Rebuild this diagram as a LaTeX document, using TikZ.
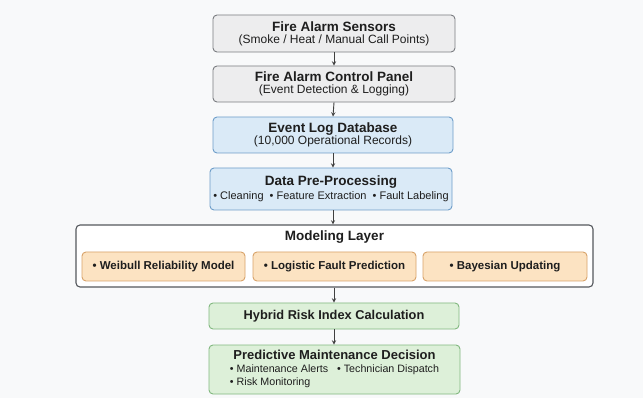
\documentclass[tikz,border=0pt]{standalone}
\usepackage{fontspec}
\setmainfont{Liberation Sans}
\usetikzlibrary{shapes, arrows, positioning, calc}
\definecolor{grayfill}{HTML}{EDEDEE}
\definecolor{grayline}{HTML}{7A7C80}
\definecolor{bluefill}{HTML}{DAEAF7}
\definecolor{blueline}{HTML}{6E9DC9}
\definecolor{orangefill}{HTML}{FCE3C2}
\definecolor{orangeline}{HTML}{D8A36A}
\definecolor{greenfill}{HTML}{DDF0D9}
\definecolor{greenline}{HTML}{82B87F}
\definecolor{layerline}{HTML}{55585D}
\definecolor{txt}{HTML}{1E1E1E}
\definecolor{bgcol}{HTML}{F8F9FA}
\newcommand{\ttl}[1]{{\bfseries\fontsize{13.5}{15}\selectfont #1}}
\newcommand{\sub}[1]{{\fontsize{12}{14}\selectfont #1}}
\tikzstyle{stage} = [draw, rounded corners=4pt, line width=0.9pt, align=center, inner sep=0pt, text=txt]
\tikzstyle{model} = [stage, draw=orangeline, fill=orangefill, minimum width=163pt, minimum height=29pt, font=\bfseries\fontsize{11.5}{13}\selectfont]
\tikzstyle{flow} = [->, >=stealth, line width=0.9pt, draw=txt!85]

\begin{document}
\begin{tikzpicture}[x=1pt, y=-1pt]
		\fill[bgcol] (0,0) rectangle (643,398);
		\useasboundingbox (0,0) rectangle (643,398);
		\coordinate (sensors) at (334,  33.5);
		\coordinate (panel)   at (334,  84);
		\coordinate (logdb)   at (333,  135);
		\coordinate (preproc) at (331,  189);
		\coordinate (layer)   at (334.5, 256);
		\coordinate (weibull) at (163.5, 266.5);
		\coordinate (logist)  at (334.5, 266.5);
		\coordinate (bayes)   at (505,  266.5);
		\coordinate (hybrid)  at (334,  316);
		\coordinate (decide)  at (334.5, 369.5);

		\node[stage, draw=grayline, fill=grayfill, minimum width=242pt, minimum height=37pt] (SEN) at (sensors) {\ttl{Fire Alarm Sensors}\\\sub{(Smoke / Heat / Manual Call Points)}};
		\node[stage, draw=grayline, fill=grayfill, minimum width=242pt, minimum height=36pt] (PAN) at (panel) {\ttl{Fire Alarm Control Panel}\\\sub{(Event Detection \& Logging)}};
		\node[stage, draw=blueline, fill=bluefill, minimum width=240pt, minimum height=36pt] (LOG) at (logdb) {\ttl{Event Log Database}\\\sub{(10,000 Operational Records)}};
		\node[stage, draw=blueline, fill=bluefill, minimum width=242pt, minimum height=42pt] (PRE) at (preproc) {\ttl{Data Pre-Processing}\\[2pt]{\fontsize{11}{13}\selectfont \textbullet\ Cleaning\ \ \textbullet\ Feature Extraction\ \ \textbullet\ Fault Labeling}};
		\node[stage, draw=layerline, fill=white, line width=1.1pt, minimum width=517pt, minimum height=62pt] (LAY) at (layer) {};
		\node[text=txt, font=\bfseries\fontsize{13.5}{15}\selectfont] (LAYT) at ($(LAY.north)+(0,13)$) {Modeling Layer};
		\node[model] (WEI) at (weibull) {\textbullet\ Weibull Reliability Model};
		\node[model] (LGF) at (logist) {\textbullet\ Logistic Fault Prediction};
		\node[model, minimum width=164pt] (BAY) at (bayes) {\textbullet\ Bayesian Updating};
		\node[stage, draw=greenline, fill=greenfill, minimum width=250pt, minimum height=26pt, font=\bfseries\fontsize{12.8}{14}\selectfont] (HYB) at (hybrid) {Hybrid Risk Index Calculation};
		\node[stage, draw=greenline, fill=greenfill, minimum width=251pt, minimum height=49pt] (DEC) at ($(decide)+(0,0)$) {\begin{tabular}{@{}l@{}}\multicolumn{1}{@{}c@{}}{\bfseries\fontsize{13}{14}\selectfont Predictive Maintenance Decision}\\[1pt]
			{\fontsize{10.7}{12}\selectfont \textbullet\ Maintenance Alerts\ \ \ \textbullet\ Technician Dispatch}\\[1pt]
			{\fontsize{10.7}{12}\selectfont \textbullet\ Risk Monitoring}\end{tabular}};

		\draw[flow] (SEN.south) -- (PAN.north);
		\draw[flow] (PAN.south) -- (LOG.north);
		\draw[flow] (LOG.south) -- (PRE.north -| LOG.south);
		\draw[flow] (PRE.south -| LOG.south) -- (LAY.north -| LOG.south);
		\draw[flow] (LAY.south -| HYB.north) -- (HYB.north);
		\draw[flow] (HYB.south) -- (DEC.north -| HYB.south);

	\end{tikzpicture}
\end{document}
